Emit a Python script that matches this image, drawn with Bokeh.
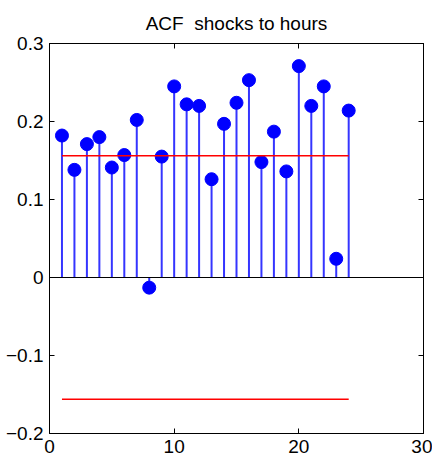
from bokeh.plotting import figure
from bokeh.models import Range1d, LinearAxis, FixedTicker, Span
from bokeh.embed import file_html
from bokeh.resources import INLINE

lags = list(range(1, 25))
acf = [0.182, 0.138, 0.171, 0.180, 0.141, 0.157, 0.202, -0.013, 0.155, 0.245,
       0.222, 0.220, 0.126, 0.197, 0.224, 0.253, 0.148, 0.187, 0.136, 0.271,
       0.220, 0.245, 0.024, 0.214]
conf = 0.156
x_ticks = [0, 10, 20, 30]
y_ticks = [-0.2, -0.1, 0, 0.1, 0.2, 0.3]
title_text = "ACF\u00a0 shocks to hours"

FONT = "Liberation Sans"
FS = "19px"

p = figure(width=432, height=461, output_backend="svg", toolbar_location=None,
           x_range=Range1d(0, 30), y_range=Range1d(-0.2, 0.3),
           min_border_left=49, min_border_right=9, min_border_top=43, min_border_bottom=28,
           x_axis_location=None, y_axis_location=None)
p.title.text = title_text
p.title.align = "center"
p.title.text_font = FONT
p.title.text_font_size = FS
p.title.text_font_style = "normal"
p.title.text_color = "black"
p.title.standoff = 20
p.xgrid.visible = False
p.ygrid.visible = False
p.outline_line_color = "black"
p.outline_line_width = 1
p.background_fill_color = "white"
p.border_fill_color = "white"


def make_axis(ticks, show_labels):
    ax = LinearAxis(ticker=FixedTicker(ticks=ticks))
    ax.major_tick_in = 5
    ax.major_tick_out = 0
    ax.minor_tick_in = 0
    ax.minor_tick_out = 0
    ax.axis_line_color = "black"
    ax.major_tick_line_color = "black"
    ax.major_label_text_font = FONT
    ax.major_label_text_font_size = FS
    ax.major_label_text_color = "black"
    ax.major_label_standoff = 6
    if not show_labels:
        ax.major_label_overrides = {t: "" for t in ticks}
        ax.major_label_standoff = 0
    return ax


bottom = make_axis(x_ticks, True)
bottom.major_label_standoff = 6
p.add_layout(bottom, "below")
left = make_axis(y_ticks, True)
p.add_layout(left, "left")
p.add_layout(make_axis(x_ticks, False), "above")
p.add_layout(make_axis(y_ticks, False), "right")

p.add_layout(Span(location=0, dimension="width", line_color="black", line_width=1.2))

p.segment(x0=lags, y0=[0] * len(lags), x1=lags, y1=acf, line_color="#3535ff", line_width=2)
p.scatter(lags, acf, size=13, fill_color="#0000ff", line_color="#0000ff")

p.line([lags[0], lags[-1]], [conf, conf], line_color="red", line_width=1.5)
p.line([lags[0], lags[-1]], [-conf, -conf], line_color="red", line_width=1.5)

open("out.html", "w").write(file_html(p, INLINE))
